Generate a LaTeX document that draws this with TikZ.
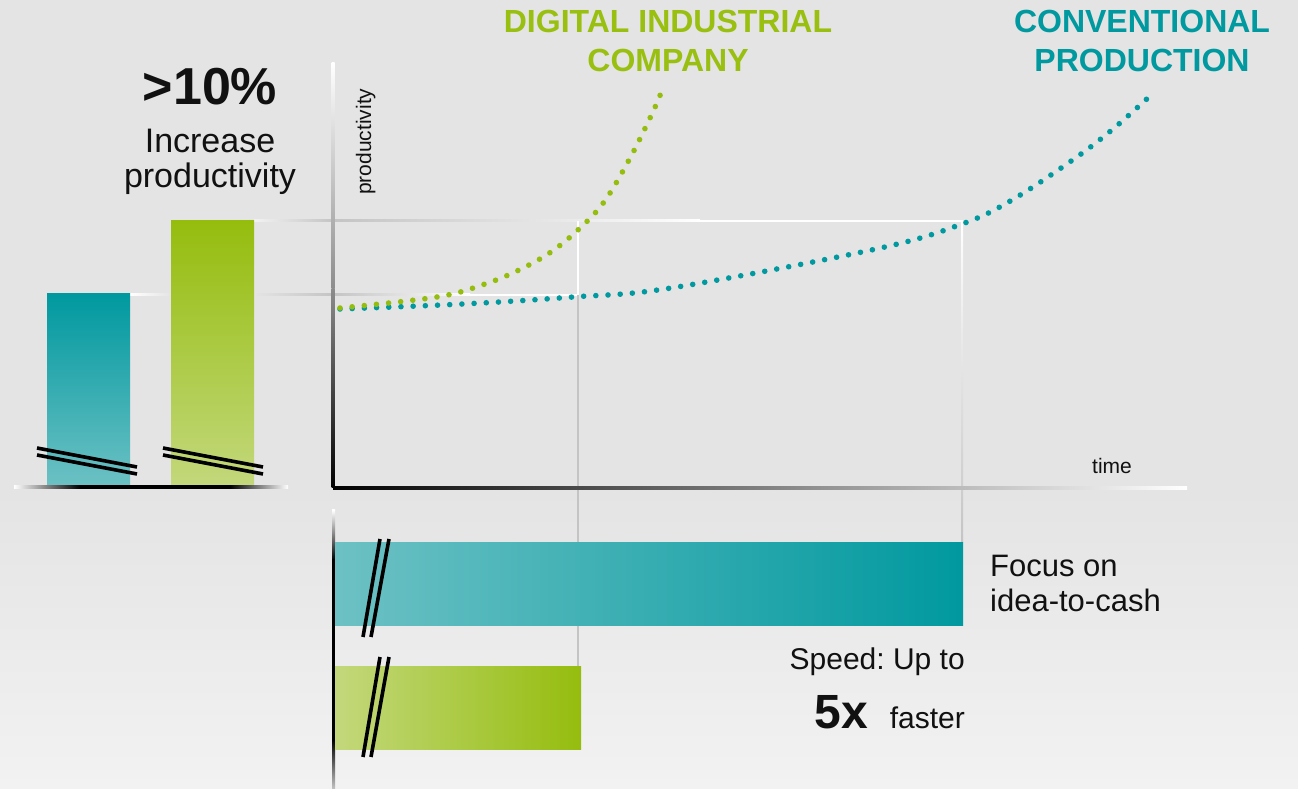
\documentclass[tikz,border=0pt]{standalone}
\usepackage{fontspec}
\setmainfont{Liberation Sans}
\frenchspacing
\definecolor{bgc}{HTML}{E4E4E4}
\definecolor{bgl}{HTML}{F2F2F2}
\definecolor{tealc}{HTML}{00999F}
\definecolor{teall}{HTML}{6DC1C4}
\definecolor{greenc}{HTML}{95BD0E}
\definecolor{greenl}{HTML}{C3D87C}
\definecolor{greent}{HTML}{99C010}
\definecolor{guided}{HTML}{C4C4C4}
\definecolor{txt}{HTML}{111111}
\begin{document}
\begin{tikzpicture}[x=1pt,y=1pt,
  brk/.style={line width=3.6pt,draw=black},
  dotline/.style={line width=5.6pt,line cap=round,dash pattern=on 0pt off 12.2pt},
  lbl/.style={inner sep=0pt,text=txt},
  head/.style={inner sep=0pt,align=center,font=\fontsize{32}{39}\selectfont\bfseries}]
\useasboundingbox (0,0) rectangle (1298,789);
% background
\fill[bgc] (0,299) rectangle (1298,789);
\shade[top color=bgc,bottom color=bgl] (0,0) rectangle (1298,299.5);
% guide lines
\shade[left color=bgl,right color=guided] (254,567) rectangle (333,569);
\shade[left color=guided,right color=white] (333,567) rectangle (700,569);
\fill[white] (700,567) rectangle (963,569);
\shade[left color=white,right color=bgc] (130,493) rectangle (171,495);
\shade[left color=bgc,right color=guided] (254,493) rectangle (333,495);
\shade[left color=guided,right color=white] (333,493) rectangle (470,495);
\fill[white] (470,493) rectangle (579,495);
\fill[white] (577,494) rectangle (579,568);
\fill[guided] (577,39) rectangle (579,494);
\shade[top color=white,bottom color=guided] (961,246) rectangle (963,568);
% left bars
\shade[top color=tealc,bottom color=teall] (47,302) rectangle (130,495);
\shade[top color=greenc,bottom color=greenl] (171,302) rectangle (254,568);
\shade[left color=white,right color=black] (14,300) rectangle (80,303.5);
\fill[black] (80,300) rectangle (230,303.5);
\shade[left color=black,right color=white] (230,300) rectangle (288,303.5);
\draw[brk] (37,341) -- (137,322);
\draw[brk] (37,334) -- (137,315);
\draw[brk] (163,341) -- (263,322);
\draw[brk] (163,334) -- (263,315);
% main axes
\shade[top color=white,bottom color=black!45] (331.5,500) rectangle (334.5,726);
\shade[top color=black!45,bottom color=black] (331.5,301) rectangle (334.5,500.5);
\shade[left color=black,right color=white] (333,299.5) rectangle (1187,302.5);
% lower axis
\shade[top color=white,bottom color=black] (332,229) rectangle (335,279);
\fill[black] (332,49) rectangle (335,229.5);
\shade[top color=black,bottom color=guided] (332,0) rectangle (335,49.5);
% lower bars
\shade[left color=teall,right color=tealc] (335,163) rectangle (963,246);
\shade[left color=greenl,right color=greenc] (335,39) rectangle (581,122);
\draw[brk] (380,250) -- (363,152);
\draw[brk] (389,250) -- (371,152);
\draw[brk] (380,132) -- (363,32);
\draw[brk] (389,132) -- (371,32);
% curves
\draw[dotline,tealc] plot[smooth,tension=0.6] coordinates {(340,480) (463,485) (573,492) (671,501) (876,540) (962,565) (1012,589) (1074,630) (1113,660) (1150,693)};
\draw[dotline,greenc] plot[smooth,tension=0.6] coordinates {(340,481) (437,492) (485,505) (519,519) (551,537) (579,560) (604,587) (629,629) (651,673) (661,696)};
% texts
\node[head,text=greent,anchor=base] (dig) at (668,717) {DIGITAL INDUSTRIAL\\COMPANY};
\node[head,text=tealc,anchor=base] (conv) at (1142,717) {CONVENTIONAL\\PRODUCTION};
\node[lbl,anchor=base,font=\fontsize{52}{52}\selectfont\bfseries] (pct) at (210,684) {>10\%};
\node[lbl,anchor=base,align=center,font=\fontsize{34}{35}\selectfont] (inc) at (210,601) {Increase\\productivity};
\node[lbl,anchor=base west,rotate=90,font=\fontsize{21}{21}\selectfont] (yl) at (371,594) {productivity};
\node[lbl,anchor=base west,font=\fontsize{21}{21}\selectfont] (xl) at (1092,315) {time};
\node[lbl,anchor=base west,align=left,font=\fontsize{31}{35}\selectfont] (foc) at (990,177) {Focus on\\idea-to-cash};
\node[lbl,anchor=base east,font=\fontsize{30}{30}\selectfont] (spd) at (965,119) {Speed: Up to};
\node[lbl,anchor=base east,font=\fontsize{30}{30}\selectfont] (fst) at (965,60) {faster};
\node[lbl,anchor=base east,font=\fontsize{48}{48}\selectfont\bfseries] (five) at (868,60) {5x};
\end{tikzpicture}
\end{document}
